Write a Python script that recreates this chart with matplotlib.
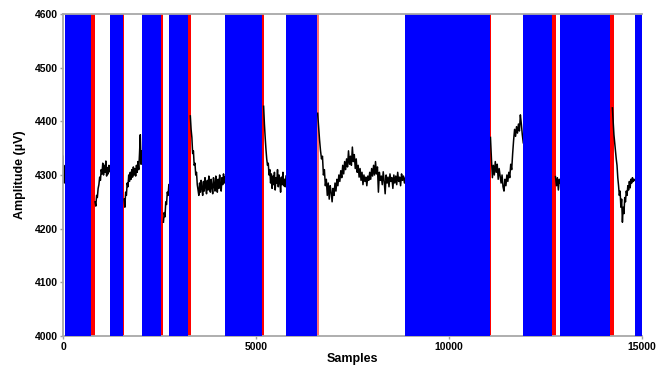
import numpy as np
import matplotlib
matplotlib.use("Agg")
import matplotlib.pyplot as plt

# --- blue bands (samples) and the red marker that closes each band ---
blue_starts = [40, 1227, 2058, 2758, 4204, 5779, 8875, 11930, 12890, 14818]
blue_ends = [720, 1549, 2551, 3252, 5157, 6584, 11055, 12664, 14169, 15000]
red_ends = [830, 1583, 2603, 3314, 5208, 6630, 11099, 12768, 14272, None]
red_colors = ['red', 'red', 'red', 'red', 'red', '#ff7070', 'red', 'red', 'red', None]

# --- visible pieces of the trace: start sample, step, values (uV) ---
gap_starts = [0, 830, 1583, 2603, 3300, 5200, 6600, 11080, 12765, 14240]
gap_steps = [10, 20, 20, 20, 20, 20, 25, 25, 25, 20]

gap0 = [4335, 4300, 4318, 4285, 4305]
gap1 = [4250, 4242, 4262, 4258, 4275, 4282, 4296, 4290, 4310, 4302, 4322, 4300,
        4318, 4305, 4326, 4298, 4314, 4302, 4318, 4306, 4310]
gap2 = [4255, 4240, 4268, 4262, 4285, 4278, 4300, 4288, 4305, 4292, 4310, 4296,
        4315, 4300, 4312, 4298, 4318, 4305, 4325, 4310, 4340, 4375, 4320, 4345]
gap3 = [4212, 4230, 4222, 4250, 4245, 4268, 4262, 4282]
gap4 = [4410, 4385, 4370, 4340, 4345, 4318, 4322, 4300, 4305, 4282, 4272, 4262,
        4285, 4268, 4290, 4275, 4262, 4288, 4270, 4295, 4278, 4265, 4290, 4272,
        4298, 4275, 4268, 4292, 4278, 4265, 4295, 4280, 4270, 4298, 4282, 4268,
        4292, 4275, 4300, 4280, 4270, 4295, 4282, 4302, 4285, 4296]
gap5 = [4428, 4395, 4370, 4348, 4330, 4318, 4322, 4300, 4310, 4285, 4302, 4275,
        4298, 4282, 4305, 4272, 4295, 4285, 4310, 4278, 4300, 4288, 4268, 4296,
        4282, 4305, 4280, 4292, 4278, 4298]
gap6 = [4415, 4390, 4365, 4345, 4330, 4335, 4300, 4310, 4280, 4292, 4262, 4285,
        4255, 4280, 4268, 4250, 4275, 4262, 4285, 4270, 4292, 4280, 4300, 4288,
        4308, 4295, 4318, 4302, 4325, 4310, 4330, 4315, 4345, 4320, 4335, 4318,
        4352, 4325, 4338, 4312, 4330, 4305, 4318, 4296, 4312, 4290, 4305, 4282,
        4300, 4288, 4296, 4280, 4298, 4290, 4305, 4292, 4312, 4298, 4318, 4300,
        4325, 4302, 4315, 4268, 4305, 4290, 4298, 4282, 4306, 4288, 4265, 4300,
        4285, 4296, 4278, 4302, 4288, 4295, 4275, 4300, 4285, 4298, 4282, 4305,
        4288, 4296, 4280, 4302, 4290, 4298, 4285, 4295]
gap7 = [4370, 4330, 4295, 4318, 4300, 4325, 4305, 4320, 4292, 4312, 4298, 4285,
        4300, 4278, 4270, 4292, 4280, 4300, 4288, 4305, 4295, 4320, 4310, 4340,
        4365, 4385, 4372, 4390, 4378, 4395, 4382, 4412, 4395, 4375, 4360]
gap8 = [4297, 4280, 4295, 4272, 4292, 4285]
gap9 = [4425, 4400, 4375, 4360, 4345, 4330, 4318, 4295, 4280, 4262, 4270, 4240,
        4255, 4212, 4240, 4228, 4258, 4250, 4270, 4262, 4280, 4272, 4288, 4276,
        4292, 4285, 4295, 4288, 4292, 4290]
gaps = [gap0, gap1, gap2, gap3, gap4, gap5, gap6, gap7, gap8, gap9]

x_ticks = [0, 5000, 10000, 15000]
y_ticks = [4000, 4100, 4200, 4300, 4400, 4500, 4600]

plt.rcParams['font.family'] = ['Liberation Sans', 'DejaVu Sans']

fig = plt.figure(figsize=(6.69, 3.67), dpi=100)
ax = fig.add_axes([0.0942, 0.0845, 0.865, 0.8774])

# red markers sit under the trace, blue bands over it
for be, re_, rc in zip(blue_ends, red_ends, red_colors):
    if re_ is not None:
        ax.axvspan(be, re_, color=rc, lw=0, zorder=1)
for bs, be in zip(blue_starts, blue_ends):
    ax.axvspan(bs, be, color='#0000ff', lw=0, zorder=3)

for start, step, vals in zip(gap_starts, gap_steps, gaps):
    xs = start + step * np.arange(len(vals))
    ax.plot(xs, vals, color='black', lw=1.1, zorder=2)

ax.set_xlim(0, 15000)
ax.set_ylim(4000, 4600)
ax.set_xticks(x_ticks)
ax.set_yticks(y_ticks)
ax.tick_params(axis='both', labelsize=7.5, color='#a0a0a0', length=2.5, width=1, pad=1.5)
for lab in ax.get_xticklabels() + ax.get_yticklabels():
    lab.set_fontweight('bold')

for side in ['left', 'bottom', 'top']:
    ax.spines[side].set_color('#a8a8a8')
    ax.spines[side].set_linewidth(1.3)
ax.spines['right'].set_visible(False)
ax.spines['top'].set_zorder(4)

ax.set_xlabel('Samples', fontsize=9, fontweight='bold', labelpad=1)
ax.set_ylabel('Amplitude (µV)', fontsize=9, fontweight='bold', labelpad=6)

fig.savefig('out.png', dpi=100)
